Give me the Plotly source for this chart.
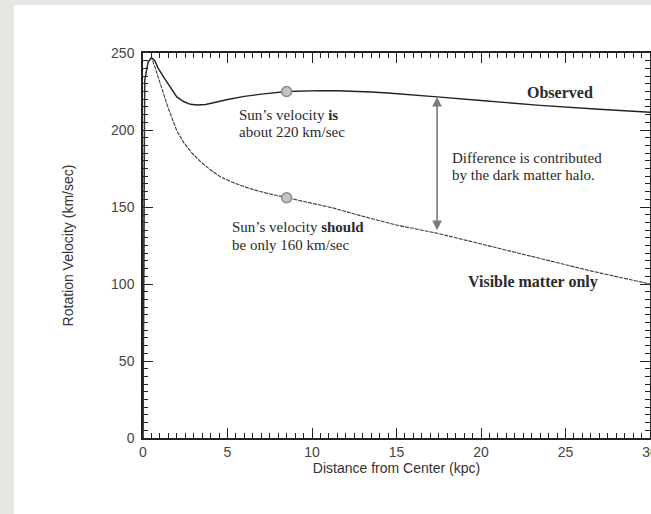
import plotly.graph_objects as go

# ---- data ----
observed_r = [0, 0.1, 0.3, 0.5, 0.7, 0.9, 1.3, 1.7, 2.0, 2.4, 2.8, 3.2, 3.7, 4.3, 5.0, 6.0, 7.0,
              8.5, 9.5, 10.5, 11.5, 12.5, 13.5, 14.5, 15.5, 17.4, 20, 23.5, 27, 30]
observed_v = [0, 232, 244, 247, 245, 240, 233, 226, 221.5, 218.5, 216.7, 216.2, 216.6, 218, 219.8,
              221.8, 223.3, 225, 225.4, 225.6, 225.5, 225.3, 224.7, 224, 223.3, 221.5, 219.2, 216,
              213.5, 211.5]

visible_r = [0, 0.1, 0.3, 0.5, 0.7, 0.9, 1.2, 1.5, 2.0, 2.4, 2.9, 3.4, 4.0, 4.6, 5.3, 6.3, 7.3,
             8.5, 10, 11.2, 13, 15.1, 17.4, 20, 23.5, 26.5, 30]
visible_v = [0, 232, 244, 247, 241, 234, 223, 214, 199.5, 192, 185, 179.5, 174, 169.5, 166, 162,
             159, 156, 152.5, 149.5, 144, 138, 133, 126, 117, 108.5, 100]

sun_r = [8.5, 8.5]
sun_v = [225, 156]

arrow_r = 17.4
arrow_top = 221.5
arrow_bottom = 134

x_ticks = [0, 5, 10, 15, 20, 25, 30]
y_ticks = [0, 50, 100, 150, 200, 250]

# ---- figure ----
fig = go.Figure()

fig.add_trace(go.Scatter(x=observed_r, y=observed_v, mode="lines",
                         line=dict(color="#222222", width=1.4), showlegend=False,
                         hoverinfo="skip"))
fig.add_trace(go.Scatter(x=visible_r, y=visible_v, mode="lines",
                         line=dict(color="#3a3a3a", width=1.1, dash="4px,1px"),
                         showlegend=False, hoverinfo="skip"))
fig.add_trace(go.Scatter(x=sun_r, y=sun_v, mode="markers",
                         marker=dict(size=10, color="#c4c4c4",
                                     line=dict(color="#8a8a8a", width=1.5)),
                         showlegend=False, hoverinfo="skip"))

serif = "Liberation Serif, Times New Roman, serif"
sans = "Liberation Sans, Arial, Helvetica, sans-serif"

annotations = [
    dict(x=arrow_r, y=arrow_top, ax=arrow_r, ay=arrow_bottom, xref="x", yref="y",
         axref="x", ayref="y", text="", showarrow=True, arrowhead=2, arrowside="end+start",
         arrowsize=1.2, arrowwidth=1.6, arrowcolor="#7a7a7a"),
]

text_items = [
    ("Sun’s velocity <b>is</b>", 5.54, 209.7, "left", 15),
    ("about 220 km/sec", 5.54, 198.5, "left", 15),
    ("Sun’s velocity <b>should</b>", 5.15, 137.2, "left", 15),
    ("be only 160 km/sec", 5.15, 125.3, "left", 15),
    ("Difference is contributed", 18.17, 182.1, "left", 15),
    ("by the dark matter halo.", 18.17, 170.9, "left", 15),
    ("<b>Observed</b>", 24.7, 224.3, "center", 16),
    ("<b>Visible matter only</b>", 23.1, 101.5, "center", 16),
]
for txt, xx, yy, anchor, size in text_items:
    annotations.append(dict(x=xx, y=yy, xref="x", yref="y", text=txt, showarrow=False,
                            xanchor=anchor, yanchor="middle",
                            font=dict(family=serif, size=size, color="#2a2a2a")))

# plot-area geometry helpers for the white panel (paper coords)
W, H = 651, 514
L, R, T, B = 143, 1, 53, 76
pw, ph = W - L - R, H - T - B
panel = dict(type="rect", xref="paper", yref="paper", layer="below",
             x0=(14 - L) / pw, x1=(W + 5 - L) / pw,
             y0=-(B + 5) / ph, y1=(H - B - 5) / ph,
             fillcolor="white", line=dict(width=0))

axis_common = dict(
    showline=True, linecolor="#222222", linewidth=1.5, mirror="allticks",
    ticks="inside", ticklen=10, tickwidth=1.2, tickcolor="#222222",
    showgrid=False, zeroline=False, ticklabeloverflow="allow", automargin=False,
    tickfont=dict(family=sans, size=14, color="#444444"),
)

fig.update_layout(
    width=W, height=H,
    margin=dict(l=L, r=R, t=T, b=B, autoexpand=False),
    paper_bgcolor="#e6e6e3",
    plot_bgcolor="white",
    shapes=[panel],
    annotations=annotations,
    xaxis=dict(range=[0, 30], tickvals=x_ticks,
               minor=dict(dtick=0.5, ticklen=5, ticks="inside", tickcolor="#222222",
                          tickwidth=1),
               title=dict(text="Distance from Center (kpc)", standoff=2,
                          font=dict(family=sans, size=14, color="#333333")),
               **axis_common),
    yaxis=dict(range=[0, 250], tickvals=y_ticks, ticklabelstandoff=4,
               minor=dict(dtick=5, ticklen=5, ticks="inside", tickcolor="#222222",
                          tickwidth=1),
               title=dict(text="Rotation Velocity (km/sec)", standoff=34,
                          font=dict(family=sans, size=14, color="#333333")),
               **axis_common),
)

fig.write_html("out.html", config={"displayModeBar": False},
               post_script="document.body.style.margin='0';document.body.style.overflow='hidden';")
